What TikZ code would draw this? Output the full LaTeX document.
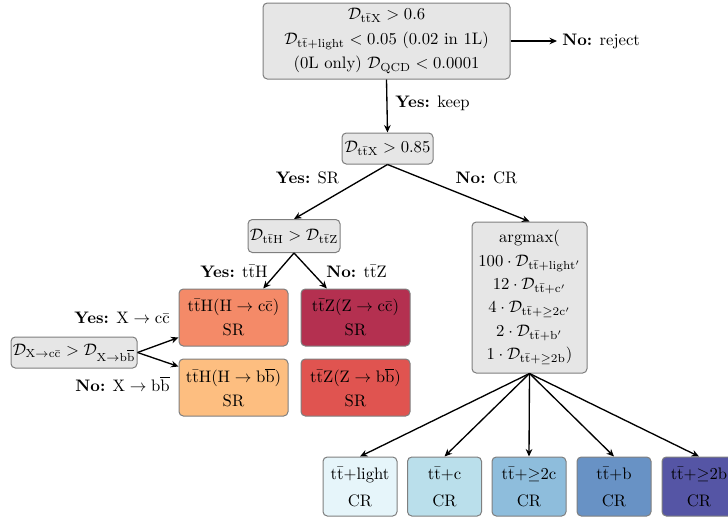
\documentclass[tikz,border=0pt]{standalone}
\usetikzlibrary{arrows.meta,calc}
\definecolor{gfill}{HTML}{E6E6E6}
\definecolor{gline}{HTML}{7F7F7F}
\definecolor{chcc}{HTML}{F48A68}
\definecolor{czcc}{HTML}{B43050}
\definecolor{chbb}{HTML}{FDBE80}
\definecolor{czbb}{HTML}{E05450}
\definecolor{ccra}{HTML}{E6F5FA}
\definecolor{ccrb}{HTML}{BADFEB}
\definecolor{ccrc}{HTML}{8EBDDC}
\definecolor{ccrd}{HTML}{6892C5}
\definecolor{ccre}{HTML}{5555A5}
\newcommand{\tTb}{\mathrm{t\bar{t}}}
\tikzset{
  box/.style={draw=gline, rounded corners=2.6pt, line width=0.6pt, inner sep=0pt, align=center},
  sz/.style 2 args={minimum width=#1*0.6pt, minimum height=#2*0.6pt},
  gbox/.style={box, fill=gfill},
  arr/.style={-{Stealth[length=4.5pt,width=4pt]}, line width=0.8pt},
  lab/.style={inner sep=0pt},
  fs/.style={font=\fontsize{10}{#1}\selectfont},
}
\begin{document}
\begin{tikzpicture}[x=0.6pt,y=-0.6pt]
\useasboundingbox (0,0) rectangle (728,519);
% nodes
\node[gbox, sz={247}{76}, fs=14.7] (top) at (386.5,41)
  {$\mathcal{D}_{\tTb\mathrm{X}} > 0.6$\\
   $\mathcal{D}_{\tTb\mathrm{+light}} < 0.05$ (0.02 in 1L)\\
   (0L only) $\mathcal{D}_{\mathrm{QCD}} < 0.0001$};
\node[gbox, sz={91}{31}] (d85) at (387.5,148.5) {$\mathcal{D}_{\tTb\mathrm{X}} > 0.85$};
\node[gbox, sz={92}{33}] (dH) at (294,236) {$\mathcal{D}_{\tTb\mathrm{H}} > \mathcal{D}_{\tTb\mathrm{Z}}$};
\node[gbox, sz={115}{151}, fs=14] (am) at (529.5,297.5)
  {argmax(\\
   $100\cdot\mathcal{D}_{\tTb\mathrm{+light}'}$\\
   $12\cdot\mathcal{D}_{\tTb\mathrm{+c}'}$\\
   $4\cdot\mathcal{D}_{\tTb\mathrm{+}\geq\mathrm{2c}'}$\\
   $2\cdot\mathcal{D}_{\tTb\mathrm{+b}'}$\\
   $1\cdot\mathcal{D}_{\tTb\mathrm{+}\geq\mathrm{2b}})$};
\node[box, fill=chcc, sz={109}{57}, fs=14.4] (hcc) at (233.5,317.5) {$\tTb\mathrm{H}(\mathrm{H}\to\mathrm{c\bar{c}})$\\SR};
\node[box, fill=czcc, sz={109}{57}, fs=14.4] (zcc) at (355.5,317.5) {$\tTb\mathrm{Z}(\mathrm{Z}\to\mathrm{c\bar{c}})$\\SR};
\node[box, fill=chbb, sz={109}{57}, fs=14.4] (hbb) at (233.5,387.5) {$\tTb\mathrm{H}(\mathrm{H}\to\mathrm{b\overline{b}})$\\SR};
\node[box, fill=czbb, sz={109}{57}, fs=14.4] (zbb) at (355.5,387.5) {$\tTb\mathrm{Z}(\mathrm{Z}\to\mathrm{b\overline{b}})$\\SR};
\node[gbox, sz={126}{31}] (dx) at (74,352.5) {$\mathcal{D}_{\mathrm{X}\to\mathrm{c\bar{c}}} > \mathcal{D}_{\mathrm{X}\to\mathrm{b\overline{b}}}$};
\node[box, fill=ccra, sz={74}{59}, fs=16.2] (cra) at (360,486.5) {$\tTb$+light\\CR};
\node[box, fill=ccrb, sz={74}{59}, fs=16.2] (crb) at (444.5,486.5) {$\tTb$+c\\CR};
\node[box, fill=ccrc, sz={74}{59}, fs=16.2] (crc) at (529,486.5) {$\tTb$+$\geq$2c\\CR};
\node[box, fill=ccrd, sz={74}{59}, fs=16.2] (crd) at (614,486.5) {$\tTb$+b\\CR};
\node[box, fill=ccre, sz={74}{59}, fs=16.2] (cre) at (699,486.5) {$\tTb$+$\geq$2b\\CR};
% connectors
\coordinate (rej) at (557,41);
\draw[arr] (top.east) -- (rej);
\node[lab, anchor=west] (rejl) at ($(rej)+(5,0)$) {\textbf{No:} reject};
\draw[arr] (top.south) -- (d85.north);
\node[lab, anchor=west] (keep) at (395,103) {\textbf{Yes:} keep};
\draw[arr] (d85.south) -- (dH.north);
\draw[arr] (d85.south) -- (am.north);
\node[lab] (ysr) at (307.5,178) {\textbf{Yes:} SR};
\node[lab] (ncr) at (486.5,178) {\textbf{No:} CR};
\draw[arr] (dH.south) -- ($(hcc.north)!0.54!(hcc.north east)$);
\draw[arr] (dH.south) -- ($(zcc.north)!0.52!(zcc.north west)$);
\node[lab] (yh) at (234,271) {\textbf{Yes:} $\tTb\mathrm{H}$};
\node[lab] (nz) at (356.5,271) {\textbf{No:} $\tTb\mathrm{Z}$};
\draw[arr] (dx.east) -- ($(hcc.south west)+(0,-9)$);
\draw[arr] (dx.east) -- ($(hbb.north west)+(0,8)$);
\node[lab, anchor=east] (yx) at (170,318) {\textbf{Yes:} $\mathrm{X}\to\mathrm{c\bar{c}}$};
\node[lab, anchor=east] (nx) at (170,384) {\textbf{No:} $\mathrm{X}\to\mathrm{b\overline{b}}$};
\foreach \n in {cra,crb,crc,crd,cre}
  \draw[arr] (am.south) -- (\n.north);
\end{tikzpicture}
\end{document}
